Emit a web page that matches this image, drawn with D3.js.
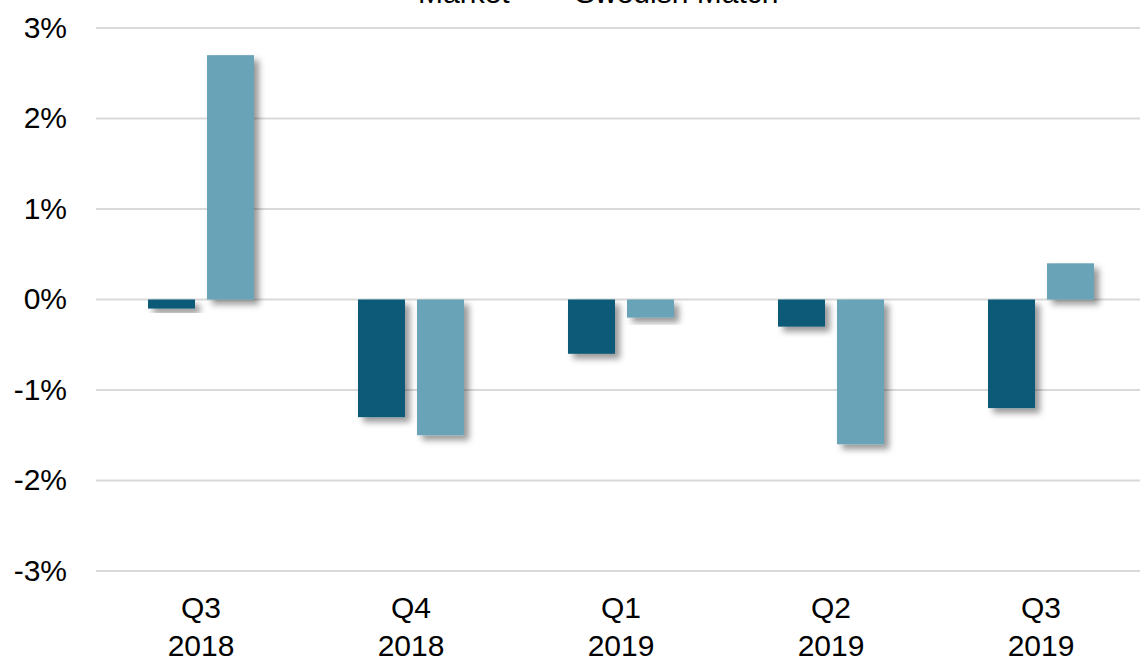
<!DOCTYPE html>
<html>
<head>
<meta charset="utf-8">
<script src="https://cdn.jsdelivr.net/npm/d3@7"></script>
<style>
  body { margin: 0; background: #fff; }
  text { font-family: "Liberation Sans", Arial, sans-serif; fill: #000; }
</style>
</head>
<body>
<div id="chart"></div>
<script>
// chart data
var quarters = ["Q3|2018", "Q4|2018", "Q1|2019", "Q2|2019", "Q3|2019"];
var seriesNames = ["Market", "Swedish Match"];
var marketValues = [-0.1, -1.3, -0.6, -0.3, -1.2];
var swedishMatchValues = [2.7, -1.5, -0.2, -1.6, 0.4];
var yTicks = [-3, -2, -1, 0, 1, 2, 3];

// colours
var colors = ["#0b5a78", "#67a3b7"];

var width = 1140;
var height = 657;
var fontSize = 30;

var svg = d3.select("#chart")
  .append("svg")
  .attr("width", width)
  .attr("height", height);

// drop shadow used by the bars
var defs = svg.append("defs");
defs.append("filter")
  .attr("id", "shadow")
  .attr("x", "-30%").attr("y", "-30%")
  .attr("width", "170%").attr("height", "170%")
  .append("feDropShadow")
  .attr("dx", 5).attr("dy", 5)
  .attr("stdDeviation", 3)
  .attr("flood-color", "#000")
  .attr("flood-opacity", 0.4);

// scales
var x = d3.scaleBand()
  .domain(quarters)
  .range([96, 1146])
  .paddingInner(0)
  .paddingOuter(0);

var y = d3.scaleLinear()
  .domain([-3, 3])
  .range([571, 28]);

var barWidth = 47;
var barGap = 12;

// gridlines
svg.append("g")
  .selectAll("line")
  .data(yTicks)
  .enter()
  .append("line")
  .attr("x1", 96)
  .attr("x2", width)
  .attr("y1", d => y(d))
  .attr("y2", d => y(d))
  .attr("stroke", "#d9d9d9")
  .attr("stroke-width", 2);

// y axis labels
var yAxis = svg.append("g")
  .attr("transform", "translate(67,0)")
  .call(d3.axisLeft(y).tickValues(yTicks).tickSize(0).tickPadding(0).tickFormat(d => d + "%"));
yAxis.select(".domain").remove();
yAxis.selectAll("text")
  .attr("font-size", fontSize)
  .attr("font-family", "Liberation Sans, Arial, sans-serif")
  .attr("fill", "#000")
  .attr("dy", "0.3em");

// bars
var series = [marketValues, swedishMatchValues];
series.forEach(function(values, s) {
  svg.append("g")
    .selectAll("rect")
    .data(values)
    .enter()
    .append("rect")
    .attr("x", (d, i) => x(quarters[i]) + x.bandwidth() / 2 - barWidth - barGap / 2 + s * (barWidth + barGap))
    .attr("y", d => y(Math.max(0, d)))
    .attr("width", barWidth)
    .attr("height", d => Math.abs(y(d) - y(0)))
    .attr("fill", colors[s])
    .attr("filter", "url(#shadow)");
});

// x axis labels (two lines)
var xLabels = svg.append("g")
  .selectAll("text")
  .data(quarters)
  .enter()
  .append("text")
  .attr("x", d => x(d) + x.bandwidth() / 2)
  .attr("y", 618)
  .attr("text-anchor", "middle")
  .attr("font-size", fontSize);
xLabels.append("tspan")
  .attr("x", d => x(d) + x.bandwidth() / 2)
  .text(d => d.split("|")[0]);
xLabels.append("tspan")
  .attr("x", d => x(d) + x.bandwidth() / 2)
  .attr("dy", 38)
  .text(d => d.split("|")[1]);

// legend, mostly cut off at the top
var legendX = [385, 542];
var legend = svg.append("g");
seriesNames.forEach(function(name, i) {
  legend.append("rect")
    .attr("x", legendX[i])
    .attr("y", -22)
    .attr("width", 20)
    .attr("height", 20)
    .attr("fill", colors[i]);
  legend.append("text")
    .attr("x", legendX[i] + 33)
    .attr("y", 3)
    .attr("font-size", fontSize)
    .text(name);
});
</script>
</body>
</html>
